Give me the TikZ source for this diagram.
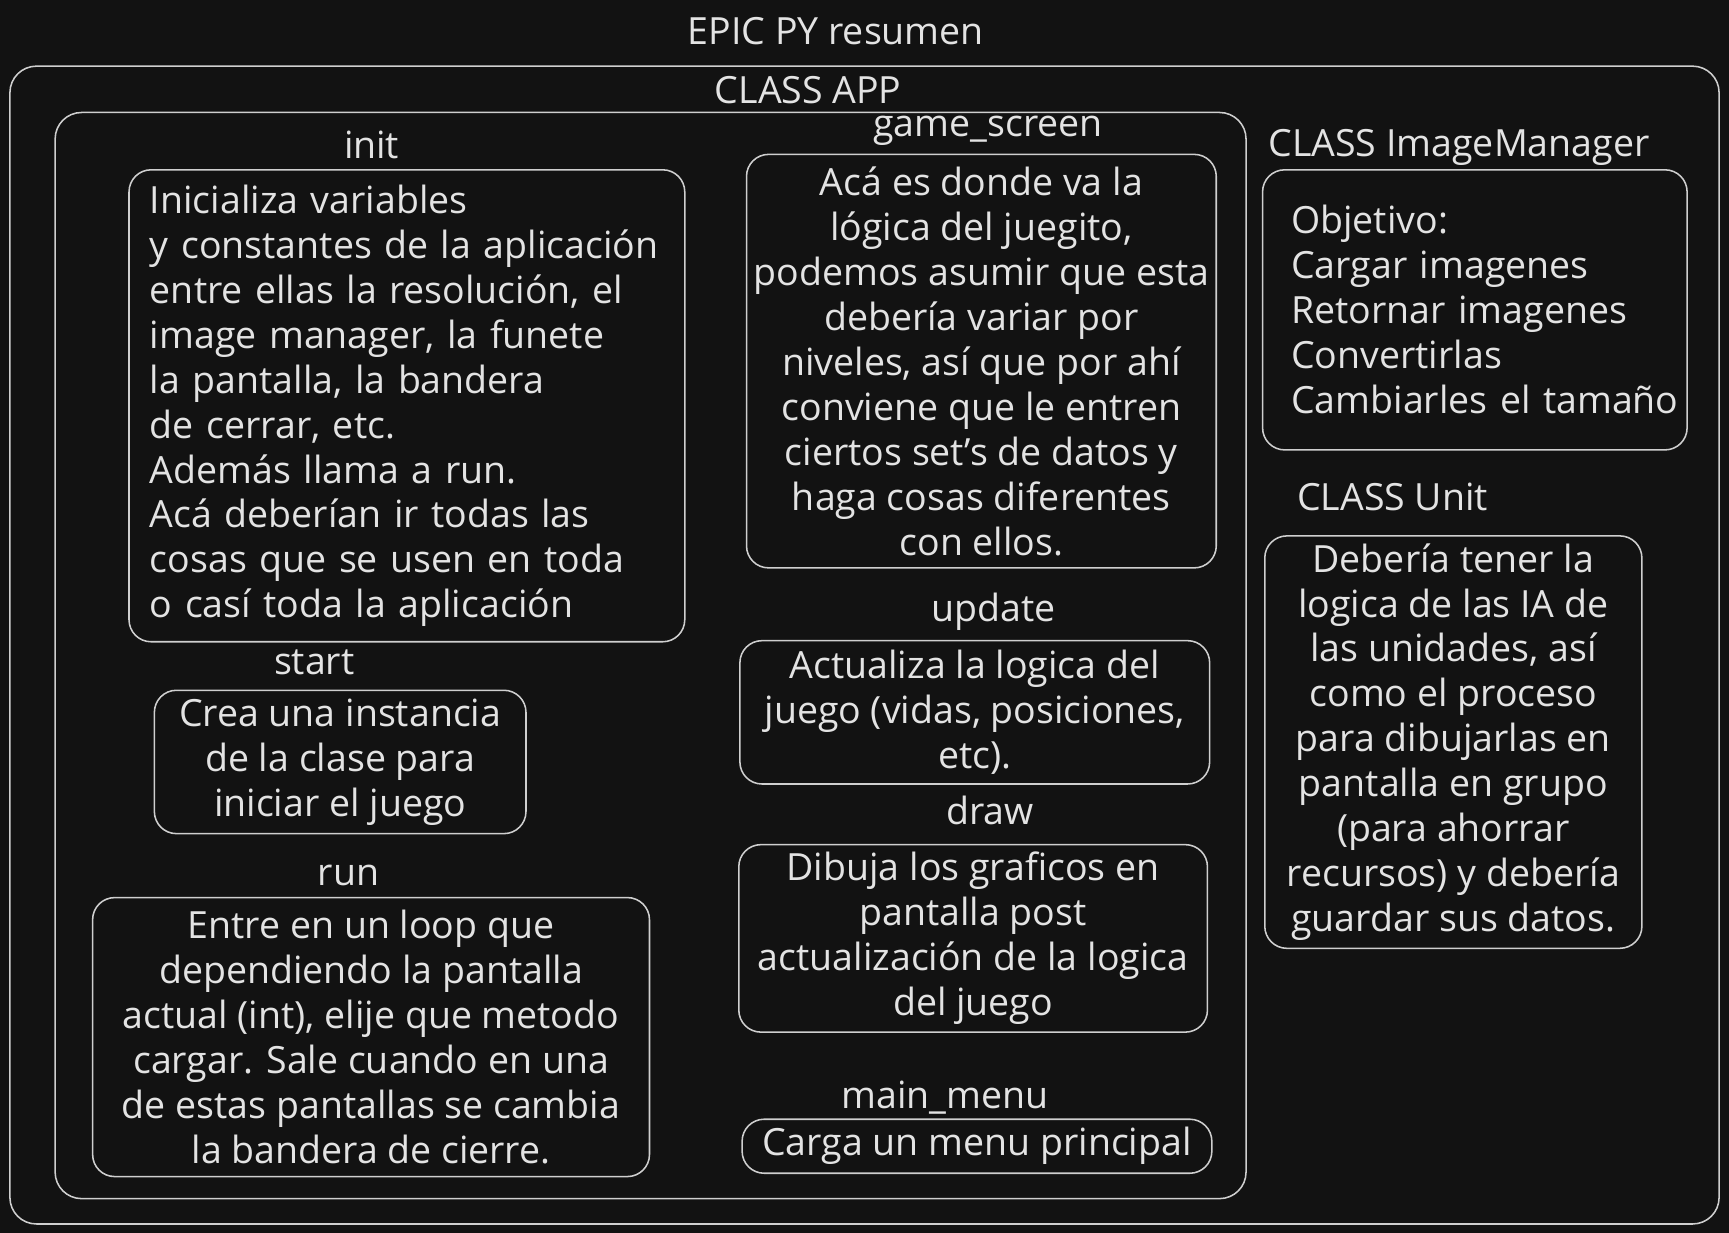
\documentclass[tikz,border=0pt]{standalone}
\usepackage{fontspec}
\setmainfont{Open Sans}
\usetikzlibrary{positioning}
\definecolor{SketchBg}{HTML}{121212}
\definecolor{SketchInk}{HTML}{E3E3E3}
\definecolor{SketchLine}{HTML}{CFCFCF}
\tikzset{
    % Text everywhere
    every node/.style={font=\fontsize{17}{20.4}\selectfont, text=SketchInk},
    % Outer frames (diagram, class)
    frame/.style={
        rectangle,
        rounded corners=12pt,
        draw=SketchLine,
        line width=0.7pt
    },
    % Method / class box
    method/.style={
        rectangle,
        rounded corners=10pt,
        draw=SketchLine,
        line width=0.7pt,
        align=center,
        inner sep=0pt
    },
    % Box with left aligned text
    notebox/.style={
        method,
        align=left
    },
    % Name above a box
    tag/.style={
        text height=14pt,
        text depth=2pt,
        inner sep=0pt
    }
}

\begin{document}
\begin{tikzpicture}[x=0.5pt, y=-0.5pt]
    \fill[SketchBg] (0,0) rectangle (1568,1118);
    \useasboundingbox (0,0) rectangle (1568,1118);

    % Frames
    \node (title) [tag] at (758,28) {EPIC PY resumen};
    \node (outer) [frame, minimum width=775pt, minimum height=525pt] at (784,585) {};
    \node (apptag) [tag] at (733,82) {CLASS APP};
    \node (app) [frame, minimum width=540pt, minimum height=492.5pt] at (590,594.5) {};

    % Left column of CLASS APP
    \node (inittag) [tag] at (337,132) {init};
    \node (init) [notebox, minimum width=252pt, minimum height=214pt, text width=233pt] at (369,368) {
        Inicializa variables\\
        y constantes de la aplicación\\
        entre ellas la resolución, el\\
        image manager, la funete\\
        la pantalla, la bandera\\
        de cerrar, etc.\\
        Además llama a run.\\
        Acá deberían ir todas las\\
        cosas que se usen en toda\\
        o casí toda la aplicación};
    \node (starttag) [tag] at (285,600) {start};
    \node (start) [method, minimum width=168.5pt, minimum height=65pt] at (308.5,691) {
        Crea una instancia\\
        de la clase para\\
        iniciar el juego};
    \node (runtag) [tag] at (316,791) {run};
    \node (run) [method, minimum width=252.5pt, minimum height=126.5pt] at (336.5,940.5) {
        Entre en un loop que\\
        dependiendo la pantalla\\
        actual (int), elije que metodo\\
        cargar. Sale cuando en una\\
        de estas pantallas se cambia\\
        la bandera de cierre.};

    % Right column of CLASS APP
    \node (gametag) [tag] at (896,112) {game\_screen};
    \node (game) [method, minimum width=213pt, minimum height=187.5pt] at (890,327.5) {
        Acá es donde va la\\
        lógica del juegito,\\
        podemos asumir que esta\\
        debería variar por\\
        niveles, así que por ahí\\
        conviene que le entren\\
        ciertos set's de datos y\\
        haga cosas diferentes\\
        con ellos.};
    \node (updatetag) [tag] at (901,552) {update};
    \node (update) [method, minimum width=213pt, minimum height=65pt] at (884,646) {
        Actualiza la logica del\\
        juego (vidas, posiciones,\\
        etc).};
    \node (drawtag) [tag] at (898,736) {draw};
    \node (draw) [method, minimum width=212.5pt, minimum height=85pt] at (882.5,851) {
        Dibuja los graficos en\\
        pantalla post\\
        actualización de la logica\\
        del juego};
    \node (menutag) [tag] at (857,993) {main\_menu};
    \node (menu) [method, minimum width=213pt, minimum height=24.5pt] at (886,1039.5) {
        Carga un menu principal};

    % Other classes
    \node (imtag) [tag, anchor=west] at (1150,130) {CLASS ImageManager};
    \node (im) [notebox, minimum width=192.5pt, minimum height=127pt, text width=166.5pt] at (1337.5,281) {
        Objetivo:\\
        Cargar imagenes\\
        Retornar imagenes\\
        Convertirlas\\
        \mbox{Cambiarles el tamaño}};
    \node (unittag) [tag, anchor=west] at (1176,451) {CLASS Unit};
    \node (unit) [method, minimum width=171pt, minimum height=187pt] at (1318,673) {
        Debería tener la\\
        logica de las IA de\\
        las unidades, así\\
        como el proceso\\
        para dibujarlas en\\
        pantalla en grupo\\
        (para ahorrar\\
        recursos) y debería\\
        guardar sus datos.};
\end{tikzpicture}
\end{document}
